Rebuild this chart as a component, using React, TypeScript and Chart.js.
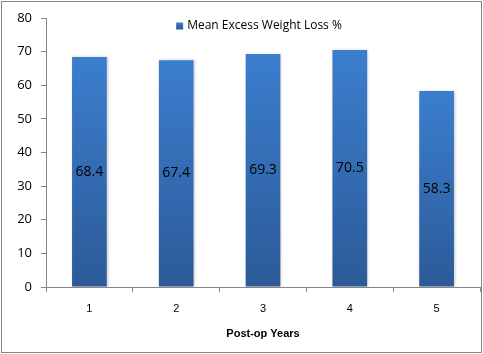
import React, { useEffect, useRef } from 'react';
import { Chart, registerables } from 'chart.js';

Chart.register(...registerables);

const categories = ['1', '2', '3', '4', '5'];
const meanEWL = [68.4, 67.4, 69.3, 70.5, 58.3];
const seriesName = 'Mean Excess Weight Loss %';
const xTitle = 'Post-op Years';
const yMin = 0;
const yMax = 80;
const yStep = 10;

const TOP_COLOR = 'rgb(59,126,206)';
const BOTTOM_COLOR = 'rgb(44,90,152)';
const AXIS_COLOR = '#868686';

export default function App() {
  const canvasRef = useRef<HTMLCanvasElement | null>(null);

  useEffect(() => {
    document.body.style.margin = '0';
    const canvas = canvasRef.current;
    if (!canvas) return;

    const barPlugin = {
      id: 'barExtras',
      beforeDatasetsDraw(chart: any) {
        const ctx = chart.ctx;
        ctx.save();
        ctx.shadowColor = 'rgba(0,0,0,0.22)';
        ctx.shadowOffsetX = 1;
        ctx.shadowOffsetY = 0;
        ctx.shadowBlur = 3;
      },
      afterDatasetsDraw(chart: any) {
        const ctx = chart.ctx;
        ctx.restore();
        const meta = chart.getDatasetMeta(0);
        ctx.save();
        ctx.font = '14px "Open Sans"';
        ctx.fillStyle = '#000';
        ctx.textAlign = 'center';
        ctx.textBaseline = 'middle';
        meta.data.forEach((el: any, i: number) => {
          const { x, y, base } = el.getProps(['x', 'y', 'base'], true);
          ctx.fillText(String(chart.data.datasets[0].data[i]), x, (y + base) / 2);
        });
        ctx.restore();
      },
      afterDraw(chart: any) {
        const ctx = chart.ctx;
        const area = chart.chartArea;
        ctx.save();
        ctx.font = '12px "Open Sans"';
        const tw = ctx.measureText(seriesName).width;
        const box = 7;
        const gap = 4;
        const total = box + gap + tw;
        const cx = (area.left + area.right) / 2 - 4;
        const x0 = cx - total / 2;
        const cy = area.top + 8;
        const g = ctx.createLinearGradient(0, cy - box / 2, 0, cy + box / 2);
        g.addColorStop(0, TOP_COLOR);
        g.addColorStop(1, BOTTOM_COLOR);
        ctx.fillStyle = g;
        ctx.fillRect(x0, cy - box / 2, box, box);
        ctx.fillStyle = '#000';
        ctx.textAlign = 'left';
        ctx.textBaseline = 'middle';
        ctx.fillText(seriesName, x0 + box + gap, cy);
        ctx.restore();
      },
    };

    const chart = new Chart(canvas, {
      type: 'bar',
      data: {
        labels: categories,
        datasets: [
          {
            label: seriesName,
            data: meanEWL,
            backgroundColor: (c: any) => {
              const ch = c.chart;
              const ys = ch.scales && ch.scales.y;
              if (!ch.chartArea || !ys || c.raw == null) return TOP_COLOR;
              const top = ys.getPixelForValue(c.raw);
              const bottom = ys.getPixelForValue(0);
              const g = ch.ctx.createLinearGradient(0, top, 0, bottom);
              g.addColorStop(0, TOP_COLOR);
              g.addColorStop(1, BOTTOM_COLOR);
              return g;
            },
            borderWidth: 0,
            categoryPercentage: 1,
            barPercentage: 0.4,
          },
        ],
      },
      options: {
        animation: false,
        responsive: false,
        maintainAspectRatio: false,
        layout: { padding: { top: 18, right: 3, left: 0, bottom: 0 } },
        plugins: {
          legend: { display: false },
          tooltip: { enabled: false },
        },
        scales: {
          x: {
            type: 'category',
            grid: {
              offset: true,
              drawOnChartArea: false,
              drawTicks: true,
              tickLength: 5,
              color: AXIS_COLOR,
            },
            border: { color: AXIS_COLOR, width: 1 },
            ticks: {
              color: '#000',
              font: { family: '"Liberation Sans"', size: 11 },
              padding: 10,
            },
            title: {
              display: true,
              text: xTitle,
              color: '#000',
              font: { family: '"Liberation Sans"', size: 11, weight: 'bold' },
              padding: { top: 4, bottom: 13 },
            },
            afterFit: (s: any) => {
              s.height = 67;
            },
          },
          y: {
            min: yMin,
            max: yMax,
            grid: {
              drawOnChartArea: false,
              drawTicks: true,
              tickLength: 5,
              color: AXIS_COLOR,
            },
            border: { color: AXIS_COLOR, width: 1 },
            ticks: {
              stepSize: yStep,
              color: '#000',
              font: { family: '"Open Sans"', size: 13 },
              padding: 9,
            },
            afterFit: (s: any) => {
              s.width = 46;
            },
          },
        },
      },
      plugins: [barPlugin],
    } as any);

    return () => {
      chart.destroy();
    };
  }, []);

  return (
    <div style={{ position: 'relative', width: 483, height: 354, background: '#fff' }}>
      <canvas ref={canvasRef} width={483} height={354} style={{ position: 'absolute', left: 0, top: 0, width: 483, height: 354 }} />
      <div
        style={{
          position: 'absolute',
          left: 1,
          top: 1,
          width: 481,
          height: 352,
          border: '1px solid #868686',
          boxSizing: 'border-box',
          pointerEvents: 'none',
        }}
      />
    </div>
  );
}
